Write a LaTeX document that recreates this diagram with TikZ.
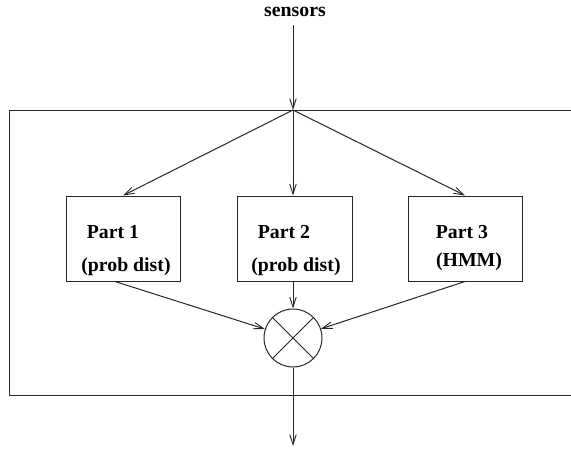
\documentclass[tikz,border=0pt]{standalone}
\usepackage{fontspec}
\setmainfont{Liberation Serif}[BoldFont={Liberation Serif Bold}]
\newfontfamily\tbold{Liberation Serif Bold}
\usetikzlibrary{arrows.meta,calc}
\tikzset{
  ln/.style={draw=black!85, line width=1pt},
  arr/.style={ln, -{Straight Barb[length=10pt,width=6.5pt,line width=0.9pt]}},
  partbox/.style={ln, rectangle, minimum height=85pt, inner sep=0pt},
  lbl/.style={font=\tbold\fontsize{19.8}{22}\selectfont, inner sep=0pt, text=black},
}
\begin{document}
\begin{tikzpicture}[x=1pt,y=-1pt]
\useasboundingbox (0,0) rectangle (571,453);
% outer frame (open on the right, cut by page edge)
\draw[ln] (572,110) -- (9,110) -- (9,395) -- (572,395);
\node[lbl] (sens) at (295,12) {sensors};
\coordinate (top) at (293,25);
\coordinate (j) at (293,110);
\node[partbox, minimum width=114pt] (p1) at (123,238.5) {};
\node[partbox, minimum width=115pt] (p2) at (294.5,238.5) {};
\node[partbox, minimum width=114pt] (p3) at (465,238.5) {};
\node[lbl] (t1a) at (113,232) {Part 1};
\node[lbl] (t1b) at (126,267) {(prob dist)};
\node[lbl] (t2a) at (284,232) {Part 2};
\node[lbl] (t2b) at (296,267) {(prob dist)};
\node[lbl] (t3a) at (462,232) {Part 3};
\node[lbl] (t3b) at (469,262) {(HMM)};
\node[ln, circle, minimum size=58pt, inner sep=0pt] (c) at (293,338) {};
\draw[ln] ($(c)+(135:28.5)$) -- ($(c)+(-45:28.5)$);
\draw[ln] ($(c)+(45:28.5)$) -- ($(c)+(-135:28.5)$);
\coordinate (out) at (293,446);
\draw[arr] (top) -- (j);
\draw[arr] (j) -- (p1.north);
\draw[arr] (j) -- (p2.north -| j);
\draw[arr] (j) -- (p3.north);
\draw[arr] ($(p1.south)+(-8,0)$) -- (c);
\draw[arr] (p2.south -| c) -- (c.north);
\draw[arr] (p3.south) -- (c);
\draw[arr] (c.south) -- (out);
\end{tikzpicture}
\end{document}
